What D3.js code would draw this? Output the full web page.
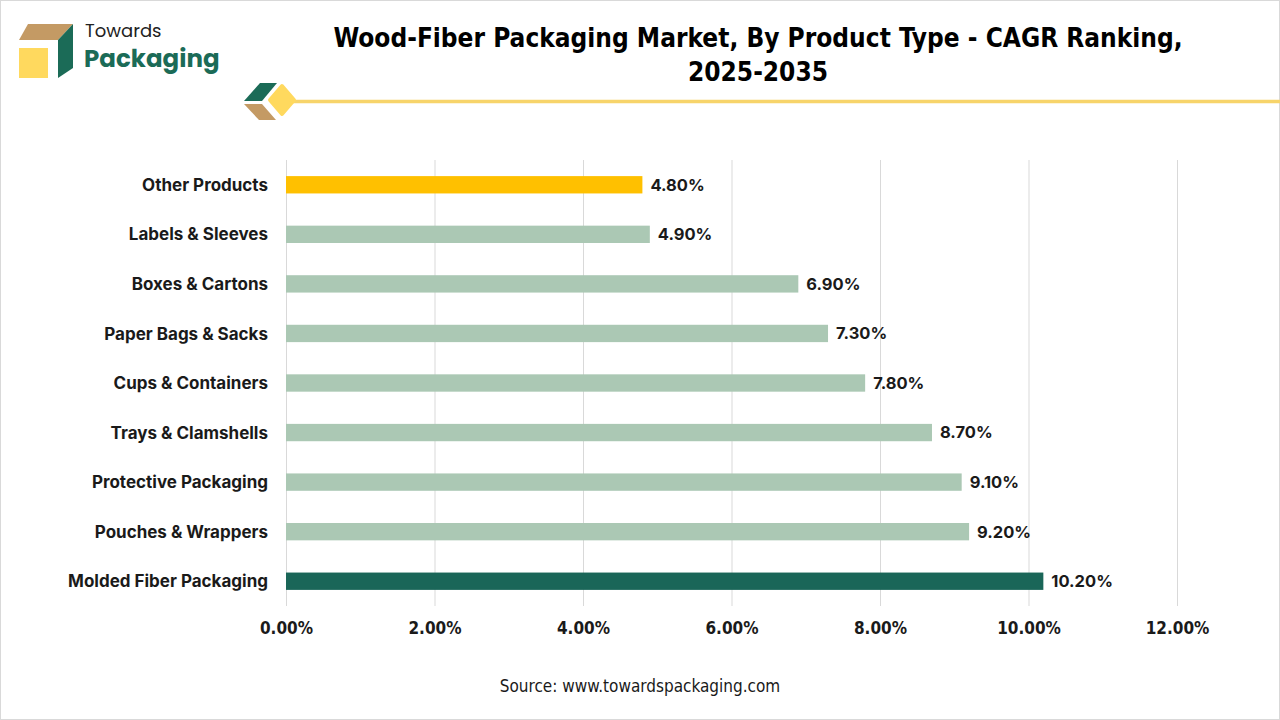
<!DOCTYPE html>
<html>
<head>
<meta charset="utf-8">
<script src="https://cdn.jsdelivr.net/npm/d3@7"></script>
<style>
  body { margin: 0; background: #fff; }
  svg { display: block; }
  .cat { font-family: Inter, "Noto Sans", sans-serif; font-weight: 700; font-size: 17px; fill: #1a1a1a; }
  .val { font-family: Inter, "Noto Sans", sans-serif; font-weight: 700; font-size: 16.5px; fill: #1a1a1a; }
  .tick text { font-family: "Liberation Sans Narrow", "DejaVu Sans Condensed", sans-serif; font-weight: 700; font-size: 17px; fill: #1a1a1a; }
  .title { font-family: "Liberation Sans Narrow", "DejaVu Sans Condensed", sans-serif; font-weight: 700; font-size: 26px; fill: #000; }
  .source { font-family: "Liberation Sans Narrow", "DejaVu Sans Condensed", sans-serif; font-size: 17px; fill: #1a1a1a; }
</style>
</head>
<body>
<svg width="1280" height="720"></svg>
<script>
var categories = ["Other Products", "Labels & Sleeves", "Boxes & Cartons", "Paper Bags & Sacks",
  "Cups & Containers", "Trays & Clamshells", "Protective Packaging", "Pouches & Wrappers",
  "Molded Fiber Packaging"];
var values = [4.8, 4.9, 6.9, 7.3, 7.8, 8.7, 9.1, 9.2, 10.2];
var ticks = [0, 2, 4, 6, 8, 10, 12];

var svg = d3.select("svg"),
    margin = {top: 160, right: 103, bottom: 114, left: 286},
    width = +svg.attr("width") - margin.left - margin.right,
    height = +svg.attr("height") - margin.top - margin.bottom;

// frame
svg.append("rect").attr("x", 0.5).attr("y", 0.5).attr("width", 1279).attr("height", 719)
  .attr("fill", "none").attr("stroke", "#d9d9d9");

// logo
var logo = svg.append("g");
logo.append("polygon").attr("points", "28,24 73,24 58,40 19,40").attr("fill", "#c49a64");
logo.append("rect").attr("x", 19).attr("y", 48).attr("width", 29).attr("height", 30).attr("fill", "#ffd95e");
logo.append("polygon").attr("points", "58,40 73,24 73,68 58,78").attr("fill", "#1b6b57");
logo.append("text").attr("x", 85).attr("y", 37)
  .style("font-family", "Poppins, Lato, sans-serif").style("font-size", "18px").attr("fill", "#222")
  .text("Towards");
logo.append("text").attr("x", 84).attr("y", 67)
  .style("font-family", "Poppins, Lato, sans-serif").style("font-size", "24.5px").style("font-weight", 700)
  .attr("fill", "#1b6b57").text("Packaging");

// title
svg.append("text").attr("class", "title").attr("x", 758).attr("y", 47).attr("text-anchor", "middle")
  .text("Wood-Fiber Packaging Market, By Product Type - CAGR Ranking,");
svg.append("text").attr("class", "title").attr("x", 758).attr("y", 81).attr("text-anchor", "middle")
  .text("2025-2035");

// decoration
svg.append("line").attr("x1", 285).attr("x2", 1280).attr("y1", 101.5).attr("y2", 101.5)
  .attr("stroke", "#f7d46a").attr("stroke-width", 3.5);
svg.append("polygon").attr("points", "244,101 260,83 277,83 262,101").attr("fill", "#1b6b57");
svg.append("polygon").attr("points", "244,104 262,104 276,120 259,120").attr("fill", "#c49a64");
svg.append("polygon").attr("points", "282,86 294,100 282,114 270,100").attr("fill", "#ffd95e")
  .attr("stroke", "#ffd95e").attr("stroke-width", 4).attr("stroke-linejoin", "round");

var x = d3.scaleLinear().domain([0, 12]).range([0, width]);
var y = d3.scaleBand().domain(categories).range([0, height]).paddingInner(0.65).paddingOuter(0.325);

var g = svg.append("g").attr("transform", "translate(" + margin.left + "," + margin.top + ")");

// gridlines
g.selectAll(".grid").data(ticks).enter().append("line")
  .attr("class", "grid")
  .attr("x1", function(d) { return x(d) + 0.5; }).attr("x2", function(d) { return x(d) + 0.5; })
  .attr("y1", 0).attr("y2", height)
  .attr("stroke", "#d9d9d9").attr("stroke-width", 1);

// x axis
var xAxis = g.append("g").attr("transform", "translate(0," + (height + 8) + ")")
  .call(d3.axisBottom(x).tickValues(ticks).tickSize(0).tickPadding(8)
    .tickFormat(function(d) { return d.toFixed(2) + "%"; }));
xAxis.select(".domain").remove();

// bars
function barColor(d, i) {
  if (i === 0) return "#ffc000";
  if (i === categories.length - 1) return "#1a6658";
  return "#abc8b4";
}
g.selectAll(".bar").data(values).enter().append("rect")
  .attr("class", "bar")
  .attr("x", 0)
  .attr("y", function(d, i) { return y(categories[i]); })
  .attr("width", function(d) { return x(d); })
  .attr("height", y.bandwidth())
  .attr("fill", barColor);

g.selectAll(".val").data(values).enter().append("text")
  .attr("class", "val")
  .attr("x", function(d) { return x(d) + 8; })
  .attr("y", function(d, i) { return y(categories[i]) + y.bandwidth() / 2; })
  .attr("dy", "0.36em")
  .text(function(d) { return d.toFixed(2) + "%"; });

g.selectAll(".cat").data(categories).enter().append("text")
  .attr("class", "cat")
  .attr("x", -18)
  .attr("y", function(d) { return y(d) + y.bandwidth() / 2; })
  .attr("dy", "0.36em")
  .attr("text-anchor", "end")
  .text(function(d) { return d; });

svg.append("text").attr("class", "source").attr("x", 640).attr("y", 692).attr("text-anchor", "middle")
  .text("Source: www.towardspackaging.com");
</script>
</body>
</html>
